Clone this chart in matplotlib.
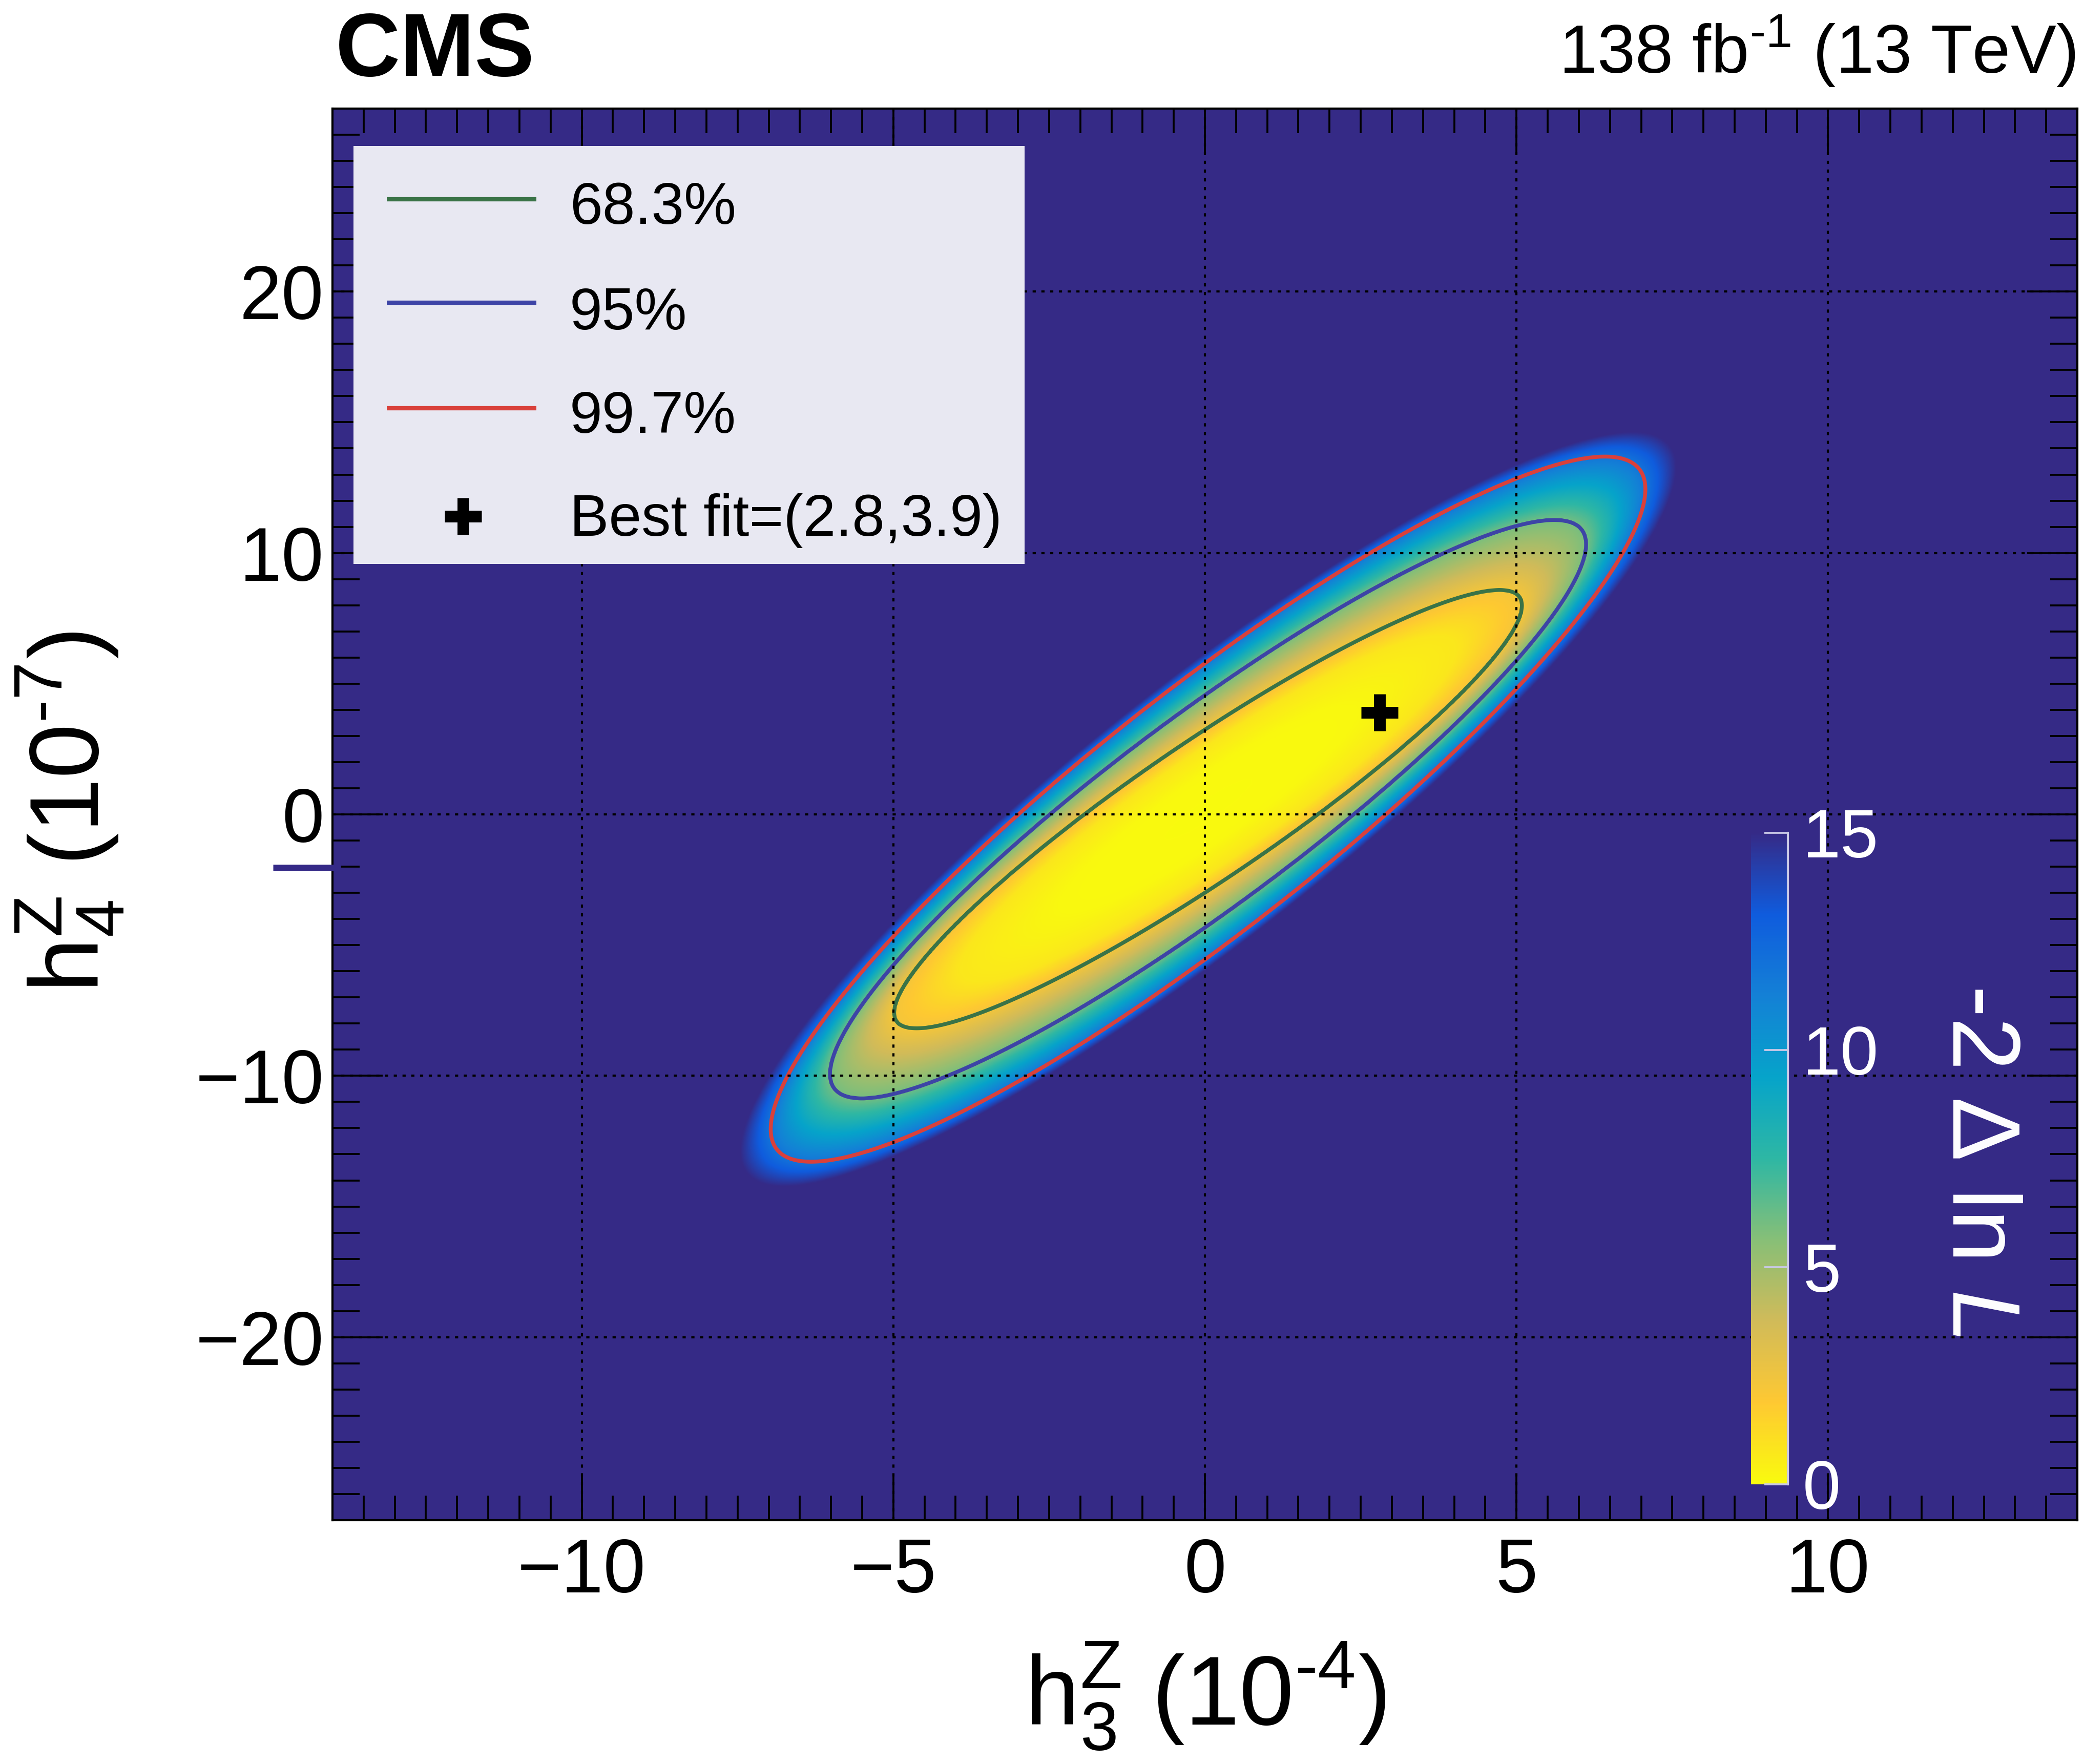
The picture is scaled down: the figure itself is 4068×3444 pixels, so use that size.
import numpy as np
import matplotlib
matplotlib.use("Agg")
import matplotlib.pyplot as plt
from matplotlib.colors import LinearSegmentedColormap
from matplotlib.ticker import MultipleLocator, FixedLocator
from matplotlib.patches import Rectangle
from matplotlib.transforms import blended_transform_factory

plt.rcParams['font.family'] = ['Liberation Sans', 'DejaVu Sans']
plt.rcParams['mathtext.fontset'] = 'custom'
plt.rcParams['mathtext.rm'] = 'Liberation Sans'
plt.rcParams['mathtext.it'] = 'Liberation Sans:italic'
plt.rcParams['mathtext.bf'] = 'Liberation Sans:bold'
plt.rcParams['mathtext.sf'] = 'Liberation Sans'

# ------------------------------------------------------------------ data
x_range = [-14.0, 14.0]
y_range = [-27.0, 27.0]
x_ticks = [-10, -5, 0, 5, 10]
y_ticks = [-20, -10, 0, 10, 20]
cbar_ticks = [0, 5, 10, 15]

best_fit = [2.8, 3.9]
best_fit_label = "Best fit=(2.8,3.9)"

cl_labels = ["68.3%", "95%", "99.7%"]
cl_levels = [2.30, 5.99, 11.83]
cl_colors = ["#3a7347", "#3d44a6", "#d9403b"]

# contours (data units), order 68.3%, 95%, 99.7%
contour_center = [0.05, 0.20]
contour_halfwidth_x = [1.875, 2.44, 2.95]    # half width on the row through the centre
contour_halfheight_y = [3.12, 4.45, 5.67]    # half height on the column through the centre
contour_extent_x = [4.75, 5.87, 6.91]        # largest |dx| on the contour
contour_extent_y = [8.90, 11.44, 13.70]      # largest |dy| on the contour

# -2 Delta lnL inside the 68.3% contour (size relative to that contour)
inner_r = [0.0, 0.47, 0.79]
inner_val = [0.0, 0.10, 0.75]
# -2 Delta lnL outside the 99.7% contour (size relative to that contour)
outer_r = [1.07, 1.6]
outer_val = [15.0, 45.0]

# ROOT kBird palette stops
bird_pos = [0.0, 0.125, 0.25, 0.375, 0.5, 0.625, 0.75, 0.875, 1.0]
bird_r = [0.2082, 0.0592, 0.0780, 0.0232, 0.1802, 0.5301, 0.8186, 0.9956, 0.9764]
bird_g = [0.1664, 0.3599, 0.5041, 0.6419, 0.7178, 0.7492, 0.7328, 0.7862, 0.9832]
bird_b = [0.5293, 0.8684, 0.8385, 0.7914, 0.6425, 0.4662, 0.3499, 0.1968, 0.0539]

# ------------------------------------------------------------------ surface
xs = np.linspace(x_range[0], x_range[1], 1400)
ys = np.linspace(y_range[0], y_range[1], 1400)
X, Y = np.meshgrid(xs, ys)
dx = X - contour_center[0]
dy = Y - contour_center[1]

rk = []
for hx, hy, ex, ey in zip(contour_halfwidth_x, contour_halfheight_y,
                          contour_extent_x, contour_extent_y):
    A = 1.0 / hx ** 2
    C = 1.0 / hy ** 2
    D = np.sqrt((C / ex ** 2) * (A / ey ** 2))
    B = -np.sqrt(A * C - D)
    Q = A * dx ** 2 + 2 * B * dx * dy + C * dy ** 2
    rk.append(np.sqrt(np.clip(Q, 1e-12, None)))
r_g, r_b, r_r = rk

u = r_r                      # radius in units of the 99.7% contour along the ray
u_g = r_r / r_g              # where the 68.3% contour sits on that ray
u_b = r_r / r_b              # where the 95% contour sits on that ray
node_pos = [ir * u_g for ir in inner_r] + [u_g, u_b, np.ones_like(u)] + \
           [orr * np.ones_like(u) for orr in outer_r]
node_val = inner_val + cl_levels + outer_val

F = np.full_like(u, node_val[-1])
for i in range(len(node_pos) - 2, -1, -1):
    p0, p1 = node_pos[i], node_pos[i + 1]
    v0, v1 = node_val[i], node_val[i + 1]
    seg = (u >= p0) & (u <= p1)
    F = np.where(seg, v0 + (u - p0) / np.maximum(p1 - p0, 1e-9) * (v1 - v0), F)

cols = [(p, (r, g, b)) for p, r, g, b in zip(bird_pos, bird_r[::-1], bird_g[::-1], bird_b[::-1])]
cmap = LinearSegmentedColormap.from_list("bird_rev", cols, N=512)

# ------------------------------------------------------------------ figure
fig = plt.figure(figsize=(4068 / 300, 3444 / 300), dpi=300)
ax = fig.add_axes([0.15954, 0.13821, 0.83727, 0.80023])

im = ax.imshow(F, extent=[x_range[0], x_range[1], y_range[0], y_range[1]],
               origin='lower', cmap=cmap, vmin=0, vmax=15, aspect='auto',
               interpolation='bilinear', zorder=0)
ax.contour(X, Y, F, levels=cl_levels, colors=cl_colors, linewidths=1.8, zorder=2)
ax.plot([best_fit[0]], [best_fit[1]], marker='+', ms=17.5, mew=5.5, color='black',
        linestyle='none', zorder=5)

ax.set_xlim(x_range)
ax.set_ylim(y_range)
ax.xaxis.set_major_locator(FixedLocator(x_ticks))
ax.yaxis.set_major_locator(FixedLocator(y_ticks))
ax.xaxis.set_minor_locator(MultipleLocator(0.5))
ax.yaxis.set_minor_locator(MultipleLocator(1))
ax.set_axisbelow(False)
ax.grid(True, which='major', color='black', linestyle=(0, (1.5, 2.6)), linewidth=1.0)
ax.tick_params(which='both', direction='in', top=True, right=True, color='black', width=0.9)
ax.tick_params(axis='x', which='major', length=21, labelsize=35.5, pad=8)
ax.tick_params(axis='x', which='minor', length=11.5)
ax.tick_params(axis='y', which='major', length=23.5, labelsize=35.5, pad=4)
ax.tick_params(axis='y', which='minor', length=12.7)
for s in ax.spines.values():
    s.set_linewidth(1.0)

# stray palette mark on the left
trans = blended_transform_factory(ax.transAxes, ax.transData)
ax.plot([-0.034, 0.0047], [-2.04, -2.04], transform=trans, color='#352a87', lw=3,
        solid_capstyle='butt', clip_on=False, zorder=3)

# legend
ax.add_patch(Rectangle((0.012, 0.6774), 0.3847, 0.2961, transform=ax.transAxes,
                       facecolor='#e8e8f2', edgecolor='none', zorder=6))
line_y = [0.9358, 0.8625, 0.7877]
text_y = [0.9184, 0.8436, 0.7703]
for ly, ty, lab, col in zip(line_y, text_y, cl_labels, cl_colors):
    ax.plot([0.0311, 0.1168], [ly, ly], transform=ax.transAxes, color=col, lw=2.0,
            solid_capstyle='butt', zorder=7)
    ax.text(0.1359, ty, lab, transform=ax.transAxes, fontsize=27.5, va='baseline',
            ha='left', zorder=8)
ax.plot([0.0749], [0.7112], transform=ax.transAxes, marker='+', ms=17.5, mew=5.5,
        color='black', linestyle='none', zorder=8)
ax.text(0.1359, 0.6974, best_fit_label, transform=ax.transAxes, fontsize=27.5,
        va='baseline', ha='left', zorder=8)

# colour bar
cax = fig.add_axes([0.84022, 0.15854, 0.0177, 0.36934])
cb = fig.colorbar(im, cax=cax, ticks=cbar_ticks)
cb.outline.set_visible(False)
cax.tick_params(direction='in', length=11, width=0.9, color='#c9c9e6',
                labelcolor='white', labelsize=32, pad=7)
cax.plot([1, 1], [0, 1], transform=cax.transAxes, color='#c9c9e6', lw=1.0, clip_on=False)
fig.text(0.9489, 0.342, "-2 \u0394 ln $L$", rotation=270, color='white', fontsize=45,
         ha='center', va='center')

# axis titles
fig.text(0.5784, 0.0221, "$\\mathrm{h}_{3}^{\\mathrm{Z}}$ (10$^{\u20104}$)", fontsize=46,
         ha='center', va='baseline')
fig.text(193 / 4068, 1 - 1585 / 3444, "$\\mathrm{h}_{4}^{\\mathrm{Z}}$ (10$^{\u20107}$)",
         fontsize=46, rotation=90, rotation_mode='anchor', ha='center', va='baseline')

# header
fig.text(655 / 4068, 1 - 148 / 3444, "CMS", fontsize=42, fontweight='bold', ha='left', va='baseline')
fig.text(4051 / 4068, 1 - 143 / 3444, "138 fb$^{\u20101}$ (13 TeV)", fontsize=32, ha='right', va='baseline')

fig.savefig("out.png", dpi=300)
